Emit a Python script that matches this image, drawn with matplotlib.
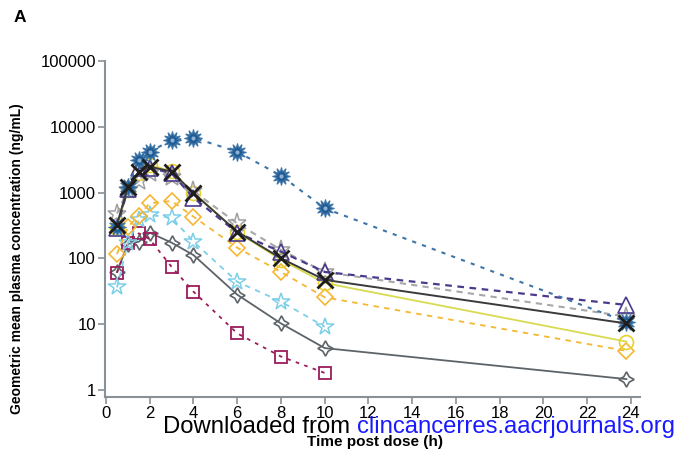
import matplotlib
matplotlib.use("Agg")
import matplotlib.pyplot as plt

plt.rcParams['font.family'] = ['Liberation Sans', 'DejaVu Sans']

times = [0.5, 1, 1.5, 2, 3, 4, 6, 8, 10, 23.8]
times10 = [0.5, 1, 1.5, 2, 3, 4, 6, 8, 10]

blue_burst = [300, 1230, 3160, 4190, 6300, 6850, 4190, 1810, 577, 10.8]
black_x = [325, 1230, 2090, 2480, 2090, 980, 254, 100, 47, 10.2]
purple_tri = [290, 1150, 2350, 2400, 1960, 835, 245, 126, 62, 19.5]
gray_star = [480, 1100, 1500, 2000, 1700, 1050, 340, 134, 62, 13]
yellow_circ = [290, 1100, 2000, 2650, 2100, 1000, 250, 95, 42, 5.4]
orange_dia = [116, 300, 445, 690, 745, 430, 145, 62, 25.5, 3.9]
lblue_star = [36, 170, 383, 457, 415, 179, 44, 22, 9.1]
gray_4star = [62, 165, 179, 245, 173, 112, 28, 10.2, 4.3, 1.45]
maroon_sq = [60, 169, 240, 195, 74, 31, 7.2, 3.2, 1.8]

xticks = list(range(0, 25, 2))
yticks = [1, 10, 100, 1000, 10000, 100000]
yticklabels = ['1', '10', '100', '1000', '10000', '100000']

fig = plt.figure(figsize=(6.77, 4.51), dpi=100)
ax = fig.add_axes([0.155, 0.1197, 0.79, 0.7446])
ax.set_yscale('log')

ms = 11
ax.plot(times, gray_4star, color='#5d6469', lw=1.3, ls='-', marker=(4, 1, 0), ms=ms,
        mfc='none', mec='#5d6469', mew=1.2, zorder=3)
ax.plot(times10, maroon_sq, color='#9b1b5a', lw=1.3, ls=(0, (2, 3)), marker='s', ms=9,
        mfc='none', mec='#9b1b5a', mew=1.3, zorder=3)
ax.plot(times10, lblue_star, color='#7dcfe8', lw=1.3, ls=(0, (3, 3)), marker='*', ms=13,
        mfc='none', mec='#7dcfe8', mew=1.1, zorder=3)
ax.plot(times, orange_dia, color='#f5b731', lw=1.3, ls=(0, (3, 3)), marker='D', ms=8,
        mfc='none', mec='#f5b731', mew=1.2, zorder=3)
ax.plot(times, yellow_circ, color='#d8db50', lw=1.3, ls='-', marker='o', ms=10,
        mfc='none', mec='#e8d030', mew=1.2, zorder=3)
ax.plot(times, gray_star, color='#a8a8a8', lw=1.5, ls=(0, (3, 2.5)), marker='*', ms=14,
        mfc='none', mec='#a0a0a0', mew=1.1, zorder=3)
ax.plot(times, purple_tri, color='#4b3a8c', lw=1.6, ls=(0, (3, 2.5)), marker='^', ms=11,
        mfc='none', mec='#4b3a8c', mew=1.2, zorder=3)
ax.plot(times, blue_burst, color='#3e75a8', lw=1.5, ls=(0, (2, 3)), marker=(12, 1, 0), ms=13,
        mfc='#1d5b95', mec='#3e75a8', mew=0.8, zorder=3)
ax.plot(times, blue_burst, ls='none', marker='o', ms=3, mfc='#8fb0d0', mec='none', zorder=3)
ax.plot(times, black_x, color='#3a3a3a', lw=1.4, ls='-', marker='x', ms=12,
        mfc='none', mec='#1e1e1e', mew=2.0, zorder=4)

ax.set_xlim(-0.05, 24.41)
ax.set_ylim(0.774, 100000)
ax.set_xticks(xticks)
ax.set_xticklabels([str(t) for t in xticks])
ax.set_yticks(yticks)
ax.set_yticklabels(yticklabels)
ax.minorticks_off()

for s in ['top', 'right']:
    ax.spines[s].set_visible(False)
for s in ['left', 'bottom']:
    ax.spines[s].set_color('#8a9096')
    ax.spines[s].set_linewidth(1.5)
ax.tick_params(axis='both', colors='#8a9096', length=5, width=1.2, labelsize=12,
               labelcolor='black', direction='out', pad=1.5)

fig.text(17 / 677, 1 - 259 / 451, 'Geometric mean plasma concentration (ng/mL)',
         rotation=90, ha='center', va='center', fontsize=10, fontweight='bold')
fig.text(375 / 677, 1 - 446 / 451, 'Time post dose (h)', ha='center', va='baseline',
         fontsize=11, fontweight='bold')
fig.text(14 / 677, 1 - 22 / 451, 'A', ha='left', va='baseline', fontsize=12.5, fontweight='bold')

fig.canvas.draw()
r = fig.canvas.get_renderer()
t2 = fig.text(675 / 677, 1 - 433 / 451, 'clincancerres.aacrjournals.org', ha='right',
              va='baseline', fontsize=17.2, color='#1a1aff')
bb = t2.get_window_extent(renderer=r)
fig.text(bb.x0 / fig.bbox.width, 1 - 433 / 451, 'Downloaded from ', ha='right',
         va='baseline', fontsize=17.2, color='black')

fig.savefig('out.png', dpi=100)
